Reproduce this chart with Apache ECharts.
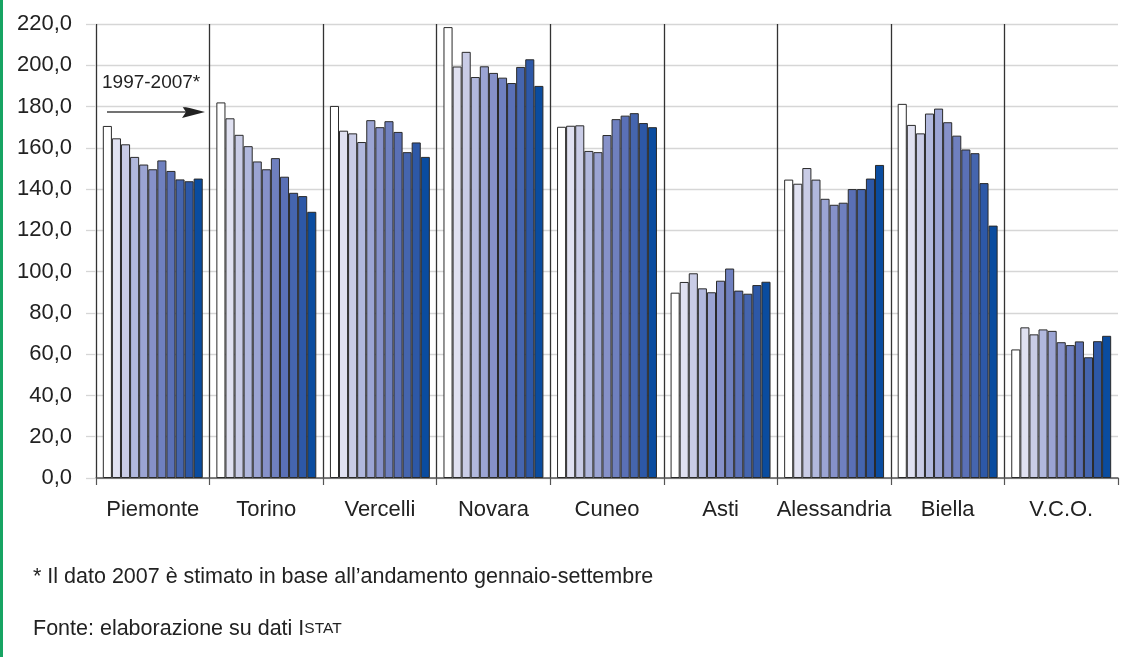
<!DOCTYPE html>
<html>
<head>
<meta charset="utf-8">
<script src="https://cdn.jsdelivr.net/npm/echarts@6/dist/echarts.min.js"></script>
<style>
html,body{margin:0;padding:0;background:#fff;}
#chart{width:1122px;height:657px;}
</style>
</head>
<body>
<div id="chart"></div>
<script>
// Categories (provinces)
const categories = ['Piemonte','Torino','Vercelli','Novara','Cuneo','Asti','Alessandria','Biella','V.C.O.'];
// Years (series)
const years = ['1997','1998','1999','2000','2001','2002','2003','2004','2005','2006','2007'];
// Values per category, 1997..2007
const piemonte    = [170.6,164.6,161.7,155.6,151.9,149.6,153.9,148.8,144.7,143.8,145.1];
const torino      = [182.0,174.3,166.3,160.8,153.4,149.6,155.0,146.0,138.2,136.6,129.0];
const vercelli    = [180.3,168.3,167.0,162.8,173.4,170.0,172.9,167.7,157.9,162.6,155.6];
const novara      = [218.5,199.4,206.5,194.3,199.5,196.3,194.0,191.4,199.2,202.9,190.0];
const cuneo       = [170.2,170.7,170.9,158.5,157.9,166.2,173.9,175.6,176.8,172.0,170.0];
const asti        = [89.8,95.0,99.2,91.9,90.0,95.6,101.5,90.8,89.3,93.5,95.1];
const alessandria = [144.6,142.6,150.2,144.6,135.3,132.4,133.4,140.0,140.0,145.1,151.7];
const biella      = [181.3,171.1,167.0,176.6,179.0,172.4,165.9,159.2,157.4,142.9,122.3];
const vco         = [62.3,73.0,69.6,72.0,71.3,65.8,64.4,66.2,58.5,66.3,68.9];
// Y-axis ticks
const yTicks = [0,20,40,60,80,100,120,140,160,180,200,220];

const byCategory = [piemonte, torino, vercelli, novara, cuneo, asti, alessandria, biella, vco];
const colors = ['#ffffff','#e0e1f1','#c9cce6','#b1b8dd','#9ba4d3','#8691c9','#6f80bf','#5a70b6','#4565ae','#2d58a7','#0a4c9f'];

const series = years.map((y, i) => ({
  name: y,
  type: 'bar',
  barGap: '0%',
  barCategoryGap: '12%',
  data: byCategory.map(arr => arr[i]),
  itemStyle: { color: colors[i], borderColor: '#2a2a2a', borderWidth: 1 },
  emphasis: { disabled: true },
  silent: true
}));

const FONT = 'Liberation Sans, Arial, sans-serif';
const chart = echarts.init(document.getElementById('chart'), null, { renderer: 'canvas' });
chart.setOption({
  animation: false,
  backgroundColor: '#ffffff',
  grid: { left: 96, right: 4, top: 24, bottom: 179, containLabel: false },
  xAxis: {
    type: 'category',
    data: categories,
    axisLine: { show: true, lineStyle: { color: '#555', width: 1.5 } },
    axisTick: { show: true, length: 7, lineStyle: { color: '#555', width: 1.2 } },
    axisLabel: { color: '#222', fontSize: 22, margin: 21, fontFamily: FONT, interval: 0 },
    splitLine: { show: true, showMaxLine: false, lineStyle: { color: '#333', width: 1.3 } }
  },
  yAxis: {
    type: 'value',
    min: yTicks[0],
    max: yTicks[yTicks.length - 1],
    interval: yTicks[1] - yTicks[0],
    axisLine: { show: false },
    axisTick: { show: true, length: 10, lineStyle: { color: '#d6d6d6', width: 1.3 } },
    axisLabel: {
      color: '#222', fontSize: 22, margin: 24, fontFamily: FONT,
      formatter: v => v.toFixed(1).replace('.', ',')
    },
    splitLine: { show: true, lineStyle: { color: '#d6d6d6', width: 1.3 } }
  },
  series: series,
  graphic: [
    { type: 'rect', left: 0, top: 0, shape: { x: 0, y: 0, width: 3, height: 657 }, style: { fill: '#17a463' }, silent: true },
    { type: 'text', left: 102, top: 73, style: { text: '1997-2007*', fill: '#222', font: '19px "Liberation Sans", Arial, sans-serif' }, silent: true },
    { type: 'line', shape: { x1: 107, y1: 112, x2: 190, y2: 112 }, style: { stroke: '#444', lineWidth: 1.5 }, silent: true },
    { type: 'polygon', shape: { points: [[182, 106], [205, 112], [182, 118], [186, 112]] }, style: { fill: '#222' }, silent: true },
    { type: 'text', left: 33, top: 566, style: { text: '* Il dato 2007 è stimato in base all\u2019andamento gennaio-settembre', fill: '#222', font: '21.5px "Liberation Sans", Arial, sans-serif' }, silent: true },
    { type: 'text', left: 33, top: 618, style: {
        text: '{a|Fonte: elaborazione su dati I}{b|STAT}',
        rich: {
          a: { fill: '#222', fontSize: 21.5, fontFamily: FONT },
          b: { fill: '#222', fontSize: 15.5, fontFamily: FONT }
        }
      }, silent: true }
  ]
});
</script>
</body>
</html>
